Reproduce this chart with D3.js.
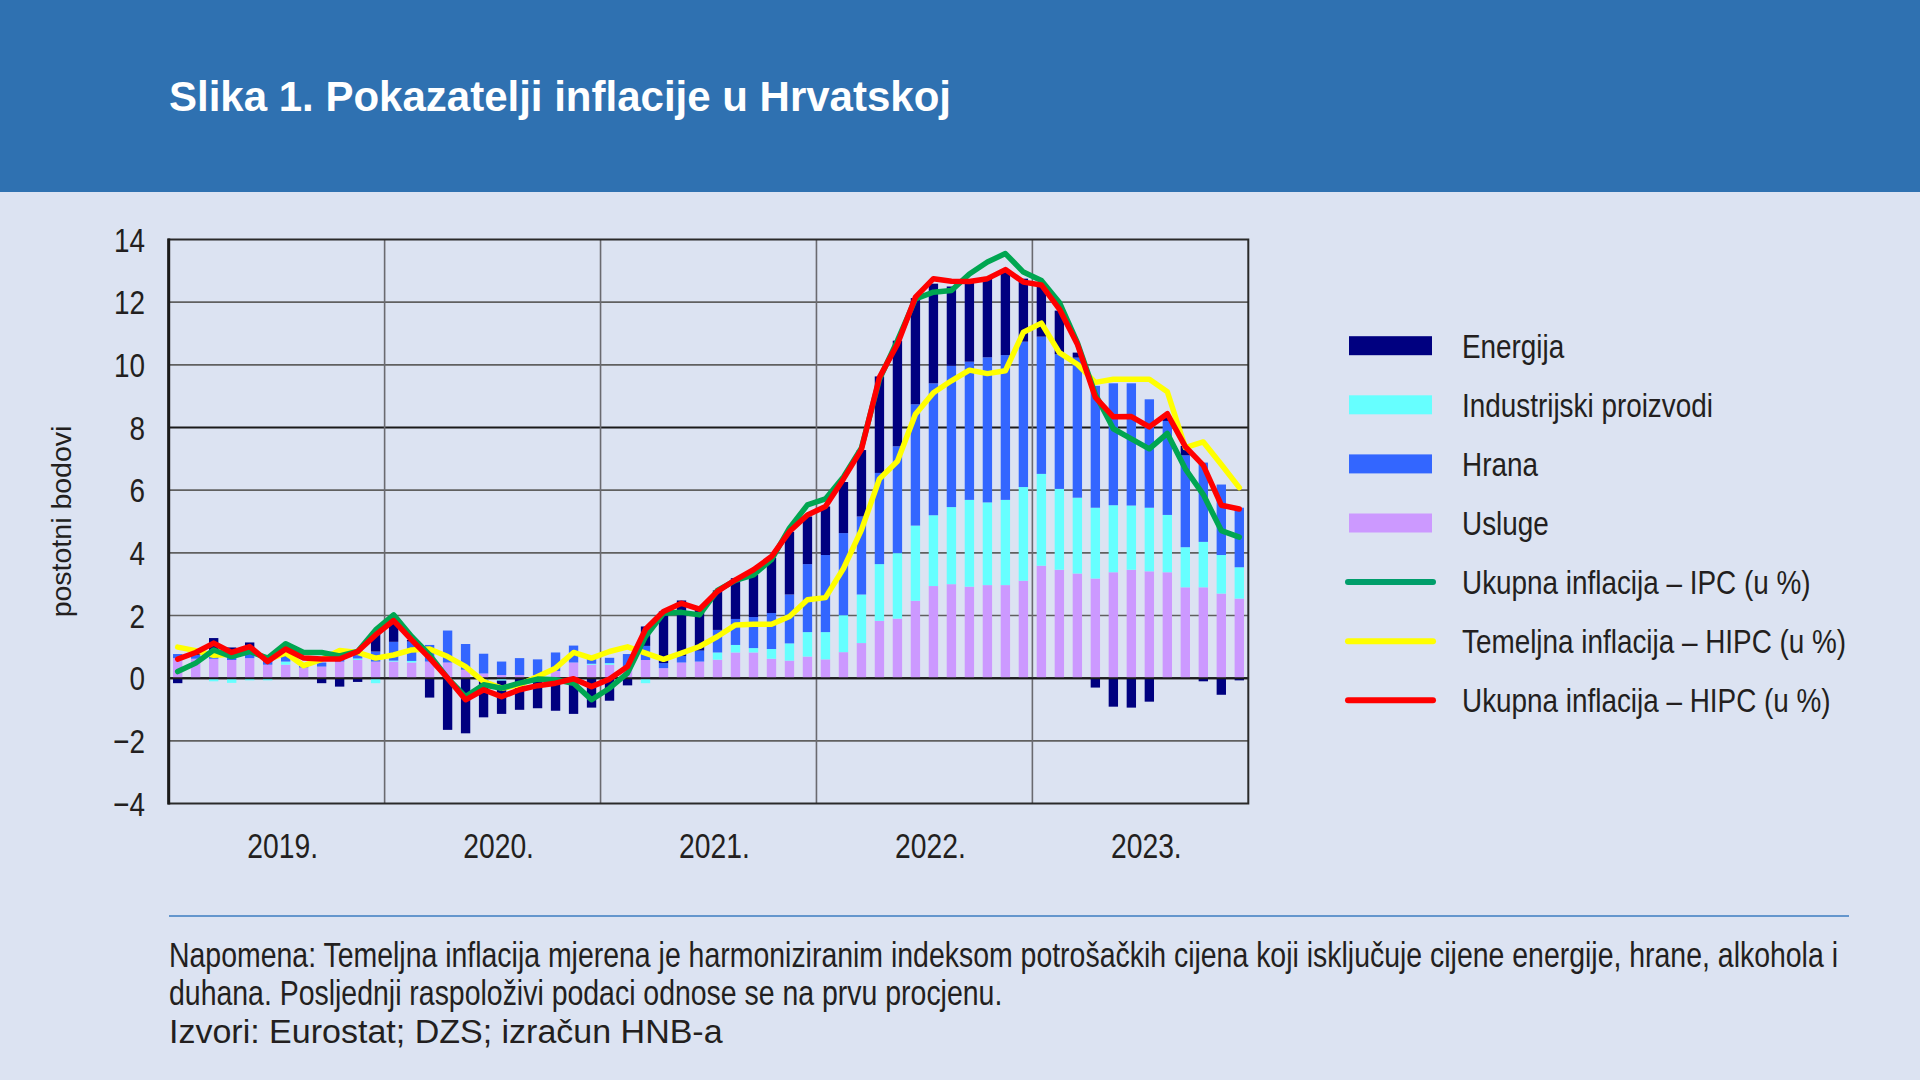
<!DOCTYPE html>
<html><head><meta charset="utf-8">
<script src="https://cdn.jsdelivr.net/npm/d3@7"></script>
<style>html,body{margin:0;padding:0;background:#dce3f2;} svg{display:block}</style>
</head><body>
<svg id="c" width="1920" height="1080"></svg>
<script>
// ---------------- DATA ----------------
const yearLabels = ["2019.","2020.","2021.","2022.","2023."];
const months = yearLabels.flatMap((y,i)=>d3.range(12).map(m=>`${2019+i}-${String(m+1).padStart(2,"0")}`));

// contributions, percentage points (Jan 2019 – Dec 2023)
const usluge = [
 0.64,0.62,0.62,0.58,0.64,0.43,0.43,0.34,0.37,0.53,0.58,0.53,
 0.53,0.50,0.53,0.50,0.27,0.15,0.10,0.10,0.10,0.23,0.50,0.43,
 0.43,0.37,0.58,0.32,0.50,0.53,0.59,0.82,0.82,0.62,0.56,0.69,
 0.60,0.83,1.12,1.83,1.90,2.47,2.94,3.00,2.92,2.97,2.97,3.11,
 3.59,3.46,3.34,3.18,3.38,3.46,3.41,3.38,2.90,2.90,2.70,2.54];
const industrijski = [
 0.00,0.00,-0.10,-0.15,-0.07,-0.07,0.10,0.00,0.00,0.00,0.05,-0.16,
 0.03,0.05,0.00,0.00,0.00,-0.05,-0.08,0.00,0.00,0.00,0.00,0.03,
 0.05,0.00,-0.16,-0.03,0.00,0.00,0.23,0.24,0.14,0.31,0.55,0.78,
 0.87,1.18,1.55,1.81,2.09,2.40,2.26,2.46,2.77,2.64,2.72,2.99,
 2.93,2.58,2.42,2.26,2.14,2.05,2.03,1.83,1.28,1.45,1.23,1.00];
const hrana = [
 0.13,0.12,0.20,0.20,0.15,0.10,0.20,0.05,0.13,0.21,0.27,0.32,
 0.60,0.62,0.53,1.02,0.82,0.63,0.43,0.54,0.50,0.59,0.54,0.20,
 0.17,0.40,0.45,0.16,0.21,0.35,0.72,0.83,0.99,1.15,1.56,2.17,
 2.46,2.62,2.49,2.91,3.41,3.87,4.21,4.51,4.41,4.63,4.62,4.64,
 4.38,4.30,4.47,3.89,3.89,3.90,3.46,3.00,2.93,2.53,2.25,1.90];
const energija = [
 -0.16,0.08,0.46,0.20,0.35,0.05,0.10,0.00,-0.16,-0.27,-0.12,0.60,
 0.62,0.05,-0.62,-1.65,-1.76,-1.20,-1.06,-1.01,-0.96,-1.04,-1.14,-0.94,
 -0.72,-0.23,0.62,1.65,1.77,1.40,1.26,1.30,1.35,1.76,2.00,1.52,
 1.55,1.63,2.12,3.08,3.37,3.39,3.18,2.53,2.56,2.51,2.65,2.01,
 1.63,1.39,0.16,-0.30,-0.91,-0.94,-0.75,0.11,0.30,-0.10,-0.53,-0.07];

// rates, %
const ipc = [
 0.21,0.48,0.90,0.69,0.85,0.64,1.10,0.82,0.82,0.71,0.85,1.54,
 2.02,1.33,0.74,0.00,-0.59,-0.21,-0.32,-0.16,-0.03,-0.05,-0.16,-0.69,
 -0.32,0.16,1.33,2.07,2.10,2.02,2.80,3.12,3.30,3.78,4.79,5.53,
 5.72,6.42,7.35,9.54,10.77,12.10,12.32,12.37,12.90,13.28,13.55,12.96,
 12.69,11.99,10.71,9.06,7.96,7.64,7.32,7.81,6.68,5.86,4.71,4.50];
const temeljna = [
 0.99,0.88,0.73,0.76,0.90,0.60,0.80,0.40,0.60,0.88,0.82,0.64,
 0.74,0.90,0.93,0.69,0.37,-0.11,-0.32,-0.21,0.05,0.32,0.82,0.64,
 0.85,1.00,0.80,0.60,0.80,1.01,1.33,1.70,1.72,1.72,1.97,2.50,
 2.57,3.50,4.73,6.36,6.92,8.42,9.11,9.49,9.83,9.72,9.81,11.04,
 11.33,10.39,10.02,9.44,9.54,9.54,9.54,9.14,7.36,7.54,6.82,6.08];
const hipc = [
 0.61,0.82,1.12,0.82,1.01,0.53,0.93,0.64,0.61,0.61,0.85,1.38,
 1.84,1.22,0.64,0.00,-0.69,-0.37,-0.59,-0.37,-0.24,-0.16,-0.02,-0.27,
 -0.03,0.37,1.56,2.13,2.39,2.20,2.77,3.14,3.46,3.88,4.68,5.21,
 5.48,6.36,7.30,9.60,10.66,12.16,12.75,12.67,12.66,12.75,13.04,12.64,
 12.55,11.78,10.66,8.96,8.34,8.35,8.02,8.44,7.39,6.79,5.52,5.40];

const yTicks = [-4,-2,0,2,4,6,8,10,12,14];

const barSeries = [
  {key:"usluge", label:"Usluge", color:"#cc99ff", values:usluge},
  {key:"industrijski", label:"Industrijski proizvodi", color:"#66ffff", values:industrijski},
  {key:"hrana", label:"Hrana", color:"#3366ff", values:hrana},
  {key:"energija", label:"Energija", color:"#000080", values:energija}
];
const lineSeries = [
  {key:"temeljna", label:"Temeljna inflacija – HIPC (u %)", color:"#ffff00", values:temeljna},
  {key:"ipc", label:"Ukupna inflacija – IPC (u %)", color:"#00a651", values:ipc},
  {key:"hipc", label:"Ukupna inflacija – HIPC (u %)", color:"#ff0000", values:hipc}
];

// ---------------- LAYOUT ----------------
const FONT = "'Liberation Sans', Arial, Helvetica, sans-serif";
const TXT = "#231f20";
const NARROW = 0.82;
const svg = d3.select("#c").attr("font-family", FONT);
const M = {left:168.7, right:1248.3, top:239.5, bottom:803.5};

svg.append("rect").attr("width",1920).attr("height",1080).attr("fill","#dce3f2");
svg.append("rect").attr("width",1920).attr("height",192).attr("fill","#2f71b1");
svg.append("text").attr("x",169).attr("y",111).attr("fill","#fff")
  .attr("font-size",42).attr("font-weight","bold")
  .text("Slika 1. Pokazatelji inflacije u Hrvatskoj");

const x = d3.scaleBand().domain(months).range([M.left, M.right]).paddingInner(0.48).paddingOuter(0.24);
const y = d3.scaleLinear().domain([-4,14]).range([M.bottom, M.top]);
const yearX = i => M.left + i*12*(M.right-M.left)/60;

function ntext(g, px, py, txt, size, anchor){
  return g.append("text")
    .attr("transform",`translate(${px},${py}) scale(${NARROW},1)`)
    .attr("text-anchor",anchor||"start").attr("font-size",size).attr("fill",TXT).text(txt);
}

// grid
const grid = svg.append("g");
grid.selectAll("line.h").data(yTicks.filter(v=>v>-4&&v<14)).join("line")
  .attr("x1",M.left).attr("x2",M.right).attr("y1",d=>y(d)).attr("y2",d=>y(d))
  .attr("stroke",d=>(d===0||d===8)?"#1a1a1a":"#606060").attr("stroke-width",d=>(d===0||d===8)?2:1.6);
grid.selectAll("line.v").data(d3.range(1,5)).join("line")
  .attr("x1",d=>yearX(d)).attr("x2",d=>yearX(d)).attr("y1",M.top).attr("y2",M.bottom)
  .attr("stroke","#6a6a70").attr("stroke-width",1.6);

// bars
const rows = months.map((m,i)=>{const r={m}; barSeries.forEach(s=>r[s.key]=s.values[i]); return r;});
const stack = d3.stack().keys(barSeries.map(s=>s.key)).offset(d3.stackOffsetDiverging)(rows);
const bars = svg.append("g");
stack.forEach((layer,li)=>{
  bars.append("g").attr("fill",barSeries[li].color)
    .selectAll("rect").data(layer).join("rect")
    .attr("x",d=>x(d.data.m)).attr("width",x.bandwidth())
    .attr("y",d=>y(Math.max(d[0],d[1]))).attr("height",d=>Math.abs(y(d[0])-y(d[1])));
});

// zero line on top of bars
svg.append("line").attr("x1",M.left).attr("x2",M.right).attr("y1",y(0)).attr("y2",y(0))
  .attr("stroke","#1a1a1a").attr("stroke-width",2);

// lines
const lineGen = d3.line().x((d,i)=>x(months[i])+x.bandwidth()/2).y(d=>y(d)).curve(d3.curveLinear);
lineSeries.forEach(s=>{
  svg.append("path").datum(s.values).attr("d",lineGen).attr("fill","none")
    .attr("stroke",s.color).attr("stroke-width",5.5).attr("stroke-linejoin","round").attr("stroke-linecap","round");
});

// frame
svg.append("rect").attr("x",M.left).attr("y",M.top).attr("width",M.right-M.left).attr("height",M.bottom-M.top)
  .attr("fill","none").attr("stroke","#2a2a2a").attr("stroke-width",2);
svg.append("line").attr("x1",M.left).attr("x2",M.left).attr("y1",M.top-1).attr("y2",M.bottom+1)
  .attr("stroke","#1a1a1a").attr("stroke-width",3);

// y tick labels
const yl = svg.append("g");
yTicks.forEach(v=>{
  ntext(yl, 145, y(v)+12, v<0?"\u2212"+Math.abs(v):String(v), 34, "end");
});
// x year labels
yearLabels.forEach((t,i)=>{
  ntext(svg, yearX(i)+ (yearX(1)-yearX(0))/2 + 6, 858, t, 34.5, "middle");
});
// y axis title
svg.append("text").attr("transform",`translate(61,${(M.top+M.bottom)/2}) rotate(-90)`)
  .attr("text-anchor","middle").attr("dominant-baseline","central")
  .attr("font-size",28.5).attr("fill",TXT).text("postotni bodovi");

// legend
const legendItems = [
  {type:"bar", s:barSeries[3]},
  {type:"bar", s:barSeries[1]},
  {type:"bar", s:barSeries[2]},
  {type:"bar", s:barSeries[0]},
  {type:"line", s:lineSeries[1]},
  {type:"line", s:lineSeries[0]},
  {type:"line", s:lineSeries[2]}
];
const lg = svg.append("g");
legendItems.forEach((it,i)=>{
  const cy = 345.7 + i*59.1;
  if(it.type==="bar"){
    lg.append("rect").attr("x",1349).attr("y",cy-9.5).attr("width",83).attr("height",19).attr("fill",it.s.color);
  } else {
    lg.append("line").attr("x1",1348).attr("x2",1433).attr("y1",cy).attr("y2",cy)
      .attr("stroke",it.s.color==="#00a651"?"#009e6b":it.s.color).attr("stroke-width",6).attr("stroke-linecap","round");
  }
  ntext(lg, 1462, cy+12, it.s.label, 34, "start");
});

// separator and notes
svg.append("line").attr("x1",169).attr("x2",1849).attr("y1",916).attr("y2",916)
  .attr("stroke","#3c7cc0").attr("stroke-width",1.5);
ntext(svg, 169, 967, "Napomena: Temeljna inflacija mjerena je harmoniziranim indeksom potrošačkih cijena koji isključuje cijene energije, hrane, alkohola i", 34.7, "start");
ntext(svg, 169, 1005, "duhana. Posljednji raspoloživi podaci odnose se na prvu procjenu.", 34.7, "start");
svg.append("text").attr("x",169).attr("y",1043).attr("font-size",34).attr("fill",TXT)
  .text("Izvori: Eurostat; DZS; izračun HNB-a");
</script>
</body></html>
